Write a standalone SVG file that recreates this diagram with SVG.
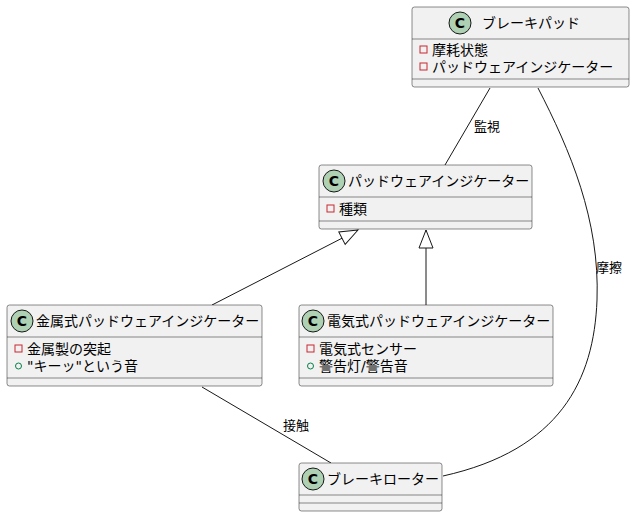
<svg xmlns="http://www.w3.org/2000/svg" width="635" height="517" viewBox="0 0 635 517">
<style>
.box{fill:#F1F1F1;stroke:#181818;stroke-width:0.5}
.sep{stroke:#181818;stroke-width:0.5}
.ci{fill:#ADD1B2;stroke:#181818;stroke-width:1}
.cl{font-family:"DejaVu Sans","Noto Sans CJK JP",sans-serif;font-size:14px;fill:#000}
.ct{font-family:"DejaVu Sans",sans-serif;font-size:14px;font-weight:bold;fill:#000;text-anchor:middle}
.at{font-family:"DejaVu Sans","Noto Sans CJK JP",sans-serif;font-size:14px;fill:#000}
.lb{font-family:"DejaVu Sans","Noto Sans CJK JP",sans-serif;font-size:13px;fill:#000}
.pv{fill:none;stroke:#C82930;stroke-width:1}
.pb{fill:none;stroke:#038048;stroke-width:1}
.ln{fill:none;stroke:#181818;stroke-width:1}
</style>
<defs>
<marker id="tri" markerWidth="20" markerHeight="20" refX="19" refY="10" orient="auto" markerUnits="userSpaceOnUse" overflow="visible">
<path d="M19,10 L1,3 L1,17 Z" fill="#FFFFFF" stroke="#181818" stroke-width="1"/>
</marker>
</defs>
<g id="connectors">
<path class="ln" d="M490,88 L445,165"/>
<text class="lb" x="474" y="131">監視</text>
<path class="ln" d="M538,88 C570,150 600,220 597,300 C594,380 560,450 443,476"/>
<text class="lb" x="596" y="272">摩擦</text>
<path class="ln" d="M212,305 L358,230" marker-end="url(#tri)"/>
<path class="ln" d="M426,305 L426,230" marker-end="url(#tri)"/>
<path class="ln" d="M202,387 L331,463"/>
<text class="lb" x="283" y="430">接触</text>
</g>
<g id="brakepad">
<rect class="box" x="412" y="7" width="217" height="80" rx="2.5"/>
<circle class="ci" cx="460" cy="23" r="11"/>
<text class="ct" x="460" y="28">C</text>
<text class="cl" x="482" y="28">ブレーキパッド</text>
<line class="sep" x1="412" y1="39" x2="629" y2="39"/>
<rect class="pv" x="420" y="46" width="7" height="7"/>
<text class="at" x="432" y="55">摩耗状態</text>
<rect class="pv" x="420" y="63" width="7" height="7"/>
<text class="at" x="432" y="72">パッドウェアインジケーター</text>
<line class="sep" x1="412" y1="79" x2="629" y2="79"/>
</g>
<g id="indicator">
<rect class="box" x="319" y="165" width="213" height="64" rx="2.5"/>
<circle class="ci" cx="334" cy="181" r="11"/>
<text class="ct" x="334" y="186">C</text>
<text class="cl" x="348" y="186">パッドウェアインジケーター</text>
<line class="sep" x1="319" y1="197" x2="532" y2="197"/>
<rect class="pv" x="327" y="205" width="7" height="7"/>
<text class="at" x="339" y="214">種類</text>
<line class="sep" x1="319" y1="221" x2="532" y2="221"/>
</g>
<g id="metal">
<rect class="box" x="7" y="305" width="255" height="81" rx="2.5"/>
<circle class="ci" cx="22" cy="321" r="11"/>
<text class="ct" x="22" y="326">C</text>
<text class="cl" x="36" y="326">金属式パッドウェアインジケーター</text>
<line class="sep" x1="7" y1="337" x2="262" y2="337"/>
<rect class="pv" x="15" y="345" width="7" height="7"/>
<text class="at" x="27" y="354">金属製の突起</text>
<circle class="pb" cx="18.5" cy="366" r="3"/>
<text class="at" x="27" y="371">"キーッ"という音</text>
<line class="sep" x1="7" y1="378" x2="262" y2="378"/>
</g>
<g id="electric">
<rect class="box" x="299" y="305" width="254" height="81" rx="2.5"/>
<circle class="ci" cx="313" cy="321" r="11"/>
<text class="ct" x="313" y="326">C</text>
<text class="cl" x="327" y="326">電気式パッドウェアインジケーター</text>
<line class="sep" x1="299" y1="337" x2="553" y2="337"/>
<rect class="pv" x="307" y="345" width="7" height="7"/>
<text class="at" x="319" y="354">電気式センサー</text>
<circle class="pb" cx="310.5" cy="366" r="3"/>
<text class="at" x="319" y="371">警告灯/警告音</text>
<line class="sep" x1="299" y1="378" x2="553" y2="378"/>
</g>
<g id="rotor">
<rect class="box" x="299" y="463" width="143" height="48" rx="2.5"/>
<circle class="ci" cx="313" cy="479" r="11"/>
<text class="ct" x="313" y="484">C</text>
<text class="cl" x="327" y="484">ブレーキローター</text>
<line class="sep" x1="299" y1="495" x2="442" y2="495"/>
<line class="sep" x1="299" y1="503" x2="442" y2="503"/>
</g>
</svg>
